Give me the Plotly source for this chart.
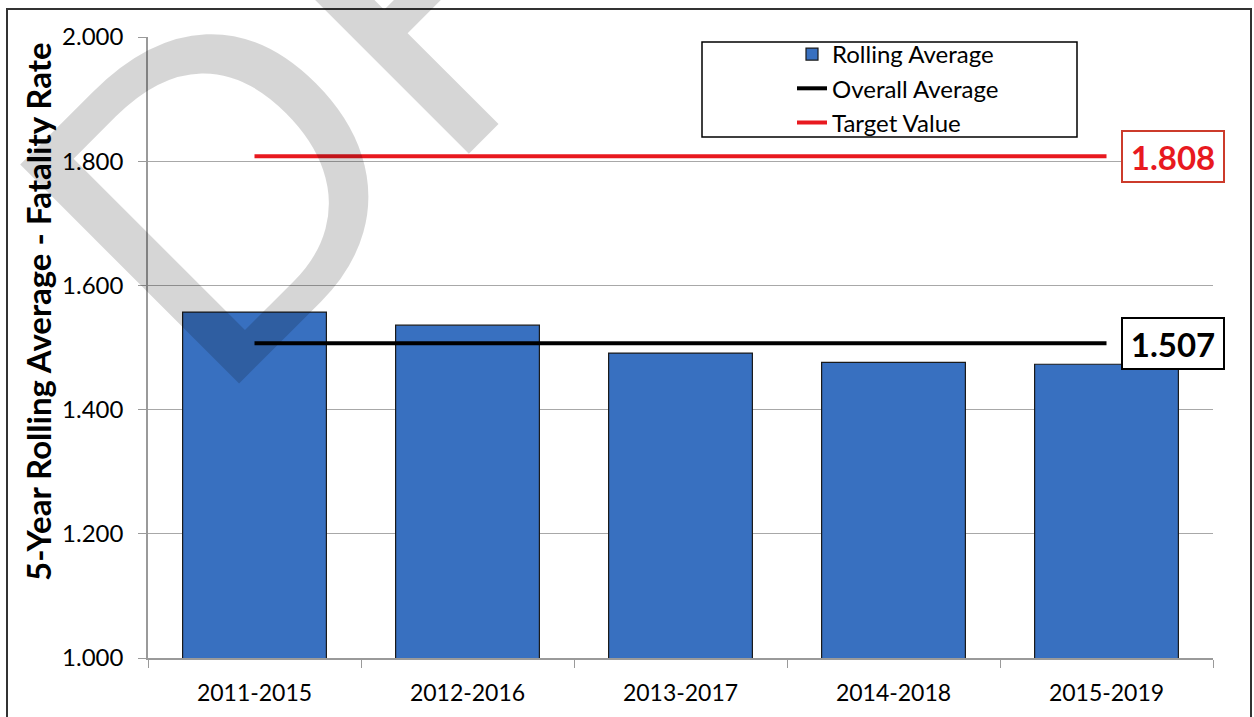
import plotly.graph_objects as go

# data
periods = ["2011-2015", "2012-2016", "2013-2017", "2014-2018", "2015-2019"]
rolling_average = [1.557, 1.536, 1.491, 1.476, 1.473]
overall_average = 1.507
target_value = 1.808
y_ticks = [1.0, 1.2, 1.4, 1.6, 1.8, 2.0]

BAR_BLUE = "#3870C0"
RED = "#E8191F"
FONT = "Lato, 'Open Sans', sans-serif"

# figure fills the whole window (body margin removed below)
W, H = 1254, 717
M_L, M_R, M_T, M_B = 148, 41, 37, 59
PW = W - M_L - M_R
PH = H - M_T - M_B


def px_x(x):
    # window pixel -> paper x
    return (x - M_L) / PW


def px_y(y):
    # window pixel -> paper y
    return 1 - (y - M_T) / PH


fig = go.Figure()

fig.add_trace(go.Bar(
    x=periods,
    y=rolling_average,
    name="Rolling Average",
    marker=dict(color=BAR_BLUE, line=dict(color="#1a1a1a", width=1.2)),
))
fig.add_trace(go.Scatter(
    x=periods,
    y=[overall_average] * len(periods),
    mode="lines",
    name="Overall Average",
    line=dict(color="black", width=4),
))
fig.add_trace(go.Scatter(
    x=periods,
    y=[target_value] * len(periods),
    mode="lines",
    name="Target Value",
    line=dict(color=RED, width=4),
))

fig.update_layout(
    width=W,
    height=H,
    margin=dict(l=M_L, r=M_R, t=M_T, b=M_B),
    paper_bgcolor="white",
    plot_bgcolor="white",
    font=dict(family=FONT, size=22, color="black"),
    bargap=0.325,
    showlegend=True,
    legend=dict(
        x=px_x(792), y=px_y(32),
        xanchor="left", yanchor="top",
        bgcolor="rgba(0,0,0,0)",
        borderwidth=0,
        font=dict(size=24),
        tracegroupgap=0,
    ),
)

fig.update_xaxes(
    type="category",
    showline=True, linecolor="#9a9a9a", linewidth=1.5,
    ticks="outside", ticklen=8, tickcolor="#9a9a9a",
    tickson="boundaries",
    showgrid=False,
    ticklabelstandoff=14,
    tickfont=dict(size=23),
)
fig.update_yaxes(
    range=[1.0, 2.0],
    tickvals=y_ticks,
    tickformat=".3f",
    showline=True, linecolor="#9a9a9a", linewidth=1.5,
    ticks="outside", ticklen=8, tickcolor="#9a9a9a",
    showgrid=True, gridcolor="#a8a8a8", gridwidth=1.2,
    zeroline=False,
    ticklabelstandoff=10,
    tickfont=dict(size=24),
)

# legend frame, drawn larger than plotly's own legend box
fig.add_shape(type="rect", xref="paper", yref="paper",
              x0=px_x(702), x1=px_x(1077), y0=px_y(137), y1=px_y(42),
              line=dict(color="black", width=1.5), fillcolor="white", layer="below")

# outer frame of the whole chart
fig.add_shape(type="rect", xref="paper", yref="paper",
              x0=px_x(7), x1=px_x(1251), y0=px_y(760), y1=px_y(9),
              line=dict(color="#333333", width=2))

# y-axis title
fig.add_annotation(
    text="<b>5-Year Rolling Average - Fatality Rate</b>",
    xref="paper", yref="paper", x=px_x(38), y=px_y(312),
    xanchor="center", yanchor="middle",
    textangle=-90, showarrow=False,
    font=dict(size=33, color="black"),
)

# value boxes at the end of the lines
for value, colour, border in [(target_value, RED, "#CC3B2B"),
                              (overall_average, "black", "black")]:
    fig.add_annotation(
        text="<b>%.3f</b>" % value,
        xref="paper", yref="y", x=px_x(1173), y=value,
        xanchor="center", yanchor="middle",
        showarrow=False, font=dict(size=33, color=colour),
        bgcolor="white", bordercolor=border, borderwidth=2,
        width=98, height=47,
    )

# DRAFT watermark (translucent black so it darkens the bars like the scan)
fig.add_annotation(
    text="DRAFT",
    xref="paper", yref="paper", x=px_x(633), y=px_y(-231),
    xanchor="center", yanchor="middle",
    textangle=-45, showarrow=False,
    font=dict(family="Liberation Sans", size=450, color="rgba(0,0,0,0.16)"),
)

fig.write_html(
    "out.html",
    config={"displayModeBar": False},
    post_script="document.body.style.margin='0';",
)
